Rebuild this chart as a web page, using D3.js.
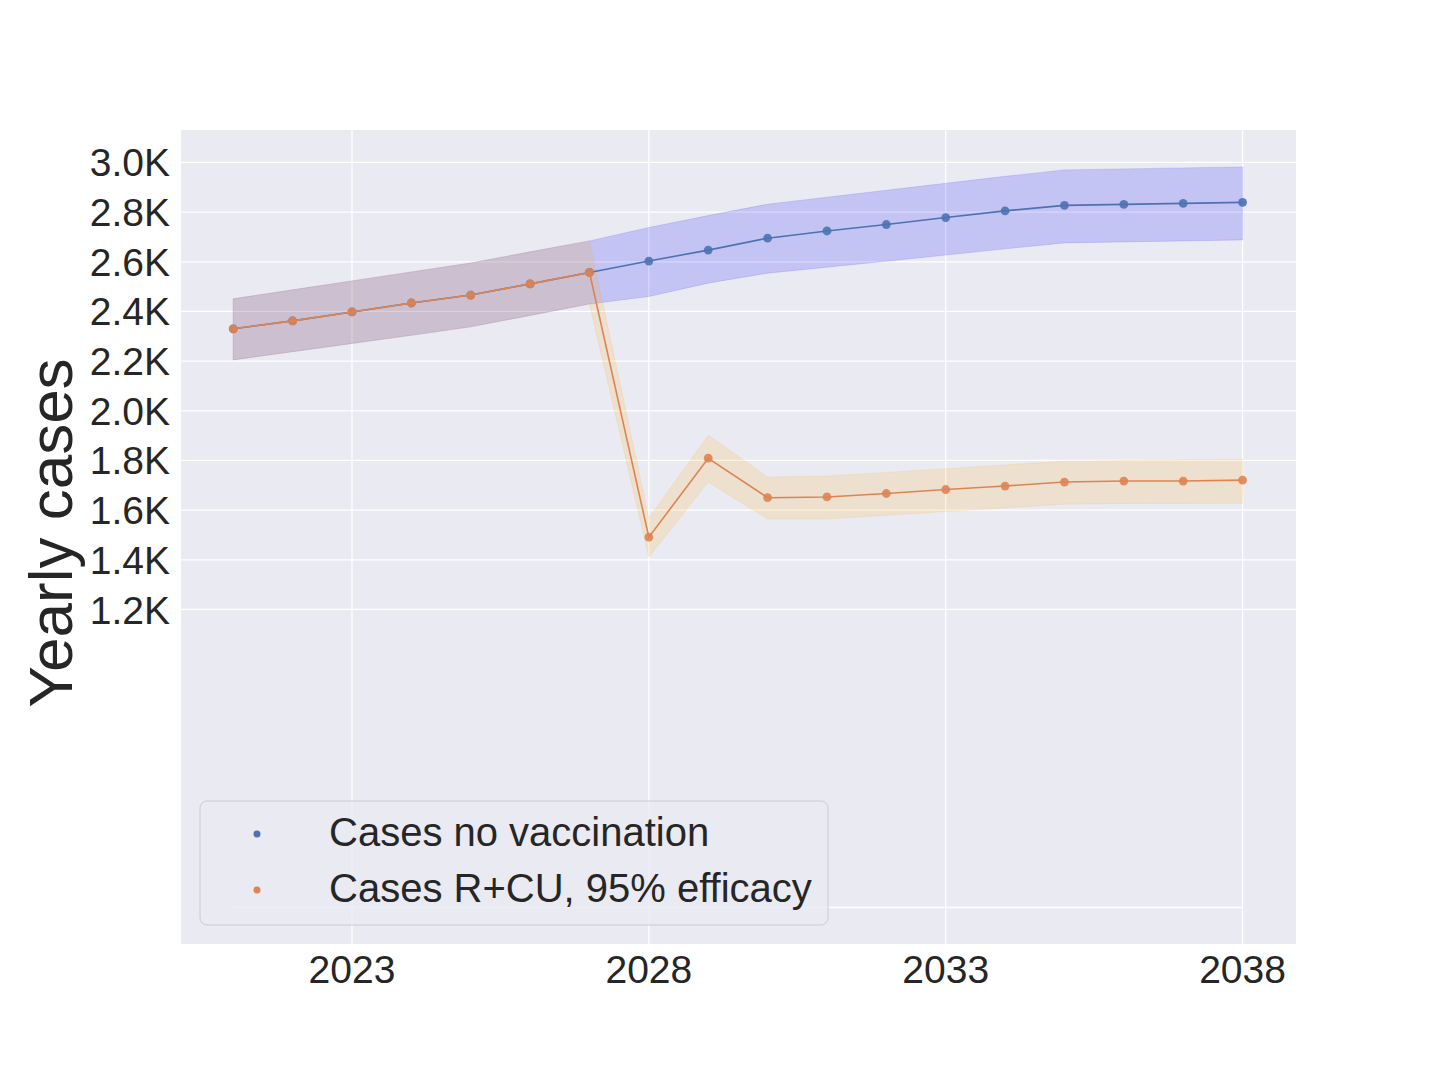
<!DOCTYPE html>
<html lang="en">
<head>
  <meta charset="utf-8">
  <title>Yearly cases</title>
  <script src="https://d3js.org/d3.v7.min.js"></script>
  <style>
    body {
      margin: 0;
      padding: 0;
      background-color: #ffffff;
      font-family: "Liberation Sans", Arial, sans-serif;
    }
    svg text {
      fill: #262626;
    }
  </style>
</head>
<body>
  <svg id="chart" width="1440" height="1080"></svg>

  <script>
    const years = [2021, 2022, 2023, 2024, 2025, 2026, 2027, 2028, 2029, 2030,
                   2031, 2032, 2033, 2034, 2035, 2036, 2037, 2038];

    const noVacc = [2330, 2362, 2398, 2434, 2466, 2511, 2557, 2603, 2647, 2695,
                    2724, 2750, 2778, 2805, 2827, 2831, 2835, 2839];
    const noVaccLow = [2205, 2238, 2271, 2304, 2338, 2384, 2430, 2460, 2514, 2554,
                       2578, 2602, 2627, 2652, 2676, 2680, 2684, 2688];
    const noVaccHigh = [2451, 2487, 2523, 2559, 2595, 2640, 2684, 2738, 2786, 2832,
                        2860, 2888, 2916, 2944, 2970, 2974, 2978, 2982];

    const rcu = [2330, 2362, 2398, 2434, 2466, 2511, 2557, 1491, 1809, 1650,
                 1653, 1667, 1683, 1697, 1713, 1717, 1717, 1721];
    const rcuLow = [2205, 2238, 2271, 2304, 2338, 2384, 2430, 1411, 1713, 1564,
                    1564, 1579, 1594, 1609, 1624, 1626, 1627, 1628];
    const rcuHigh = [2451, 2487, 2523, 2559, 2595, 2640, 2684, 1568, 1902, 1733,
                     1737, 1752, 1767, 1782, 1797, 1800, 1803, 1805];

    const zeroLine = [0, 0, 0, 0, 0, 0, 0, 0, 0, 0, 0, 0, 0, 0, 0, 0, 0, 0];

    const xTicks = [2023, 2028, 2033, 2038];
    const yTicks = [1200, 1400, 1600, 1800, 2000, 2200, 2400, 2600, 2800, 3000];
    const yTickLabels = ["1.2K", "1.4K", "1.6K", "1.8K", "2.0K", "2.2K", "2.4K", "2.6K", "2.8K", "3.0K"];

    const legendLabels = ["Cases no vaccination", "Cases R+CU, 95% efficacy"];

    const plotLeft = 181, plotTop = 130, plotRight = 1296, plotBottom = 944;

    const svg = d3.select("#chart");

    const x = d3.scaleLinear().domain([2020.12, 2038.9]).range([plotLeft, plotRight]);
    const y = d3.scaleLinear().domain([-147, 3130.6]).range([plotBottom, plotTop]);

    // plot background
    svg.append("rect")
      .attr("x", plotLeft).attr("y", plotTop)
      .attr("width", plotRight - plotLeft).attr("height", plotBottom - plotTop)
      .attr("fill", "#eaeaf2");

    // grid
    svg.append("g")
      .selectAll("line")
      .data(yTicks)
      .join("line")
      .attr("x1", plotLeft).attr("x2", plotRight)
      .attr("y1", d => y(d)).attr("y2", d => y(d))
      .attr("stroke", "#ffffff").attr("stroke-width", 1.3);

    svg.append("g")
      .selectAll("line")
      .data(xTicks)
      .join("line")
      .attr("x1", d => x(d)).attr("x2", d => x(d))
      .attr("y1", plotTop).attr("y2", plotBottom)
      .attr("stroke", "#ffffff").attr("stroke-width", 1.3);

    // tick labels
    svg.append("g")
      .selectAll("text")
      .data(yTicks)
      .join("text")
      .attr("x", 170)
      .attr("y", d => y(d))
      .attr("dy", "0.36em")
      .attr("text-anchor", "end")
      .style("font-size", "39px")
      .text((d, i) => yTickLabels[i]);

    svg.append("g")
      .selectAll("text")
      .data(xTicks)
      .join("text")
      .attr("x", d => x(d))
      .attr("y", 983)
      .attr("text-anchor", "middle")
      .style("font-size", "39px")
      .text(d => d);

    // y label
    svg.append("text")
      .attr("transform", "translate(72,533) rotate(-90)")
      .attr("text-anchor", "middle")
      .style("font-size", "62px")
      .text("Yearly cases");

    const area = (low, high) => d3.area()
      .x((d, i) => x(years[i]))
      .y0((d, i) => y(low[i]))
      .y1((d, i) => y(high[i]))(years);

    const line = vals => d3.line()
      .x((d, i) => x(years[i]))
      .y((d, i) => y(vals[i]))(years);

    // bands
    svg.append("path")
      .attr("d", area(noVaccLow, noVaccHigh))
      .attr("fill", "rgb(0,0,255)").attr("fill-opacity", 0.16)
      .attr("stroke", "rgb(0,0,255)").attr("stroke-opacity", 0.12).attr("stroke-width", 1);

    svg.append("path")
      .attr("d", area(rcuLow, rcuHigh))
      .attr("fill", "rgb(255,165,0)").attr("fill-opacity", 0.15)
      .attr("stroke", "rgb(255,165,0)").attr("stroke-opacity", 0.12).attr("stroke-width", 1);

    // zero line
    svg.append("path")
      .attr("d", line(zeroLine))
      .attr("fill", "none")
      .attr("stroke", "#ffffff").attr("stroke-width", 1.3);

    const series = [
      { vals: noVacc, color: "#4c72b0" },
      { vals: rcu, color: "#dd8452" }
    ];

    series.forEach(s => {
      svg.append("path")
        .attr("d", line(s.vals))
        .attr("fill", "none")
        .attr("stroke", s.color).attr("stroke-width", 1.6);

      svg.append("g")
        .selectAll("circle")
        .data(s.vals)
        .join("circle")
        .attr("cx", (d, i) => x(years[i]))
        .attr("cy", d => y(d))
        .attr("r", 4.4)
        .attr("fill", s.color)
        .attr("fill-opacity", 0.9);
    });

    // legend
    const legend = svg.append("g");
    legend.append("rect")
      .attr("x", 200).attr("y", 801)
      .attr("width", 628).attr("height", 124)
      .attr("rx", 7)
      .attr("fill", "#eaeaf2").attr("fill-opacity", 0.8)
      .attr("stroke", "#cccccc").attr("stroke-width", 1);

    legendLabels.forEach((label, i) => {
      legend.append("circle")
        .attr("cx", 257).attr("cy", 834 + i * 56)
        .attr("r", 3.5)
        .attr("fill", series[i].color);
      legend.append("text")
        .attr("x", 329).attr("y", 846 + i * 56)
        .style("font-size", "40px")
        .text(label);
    });
  </script>
</body>
</html>
